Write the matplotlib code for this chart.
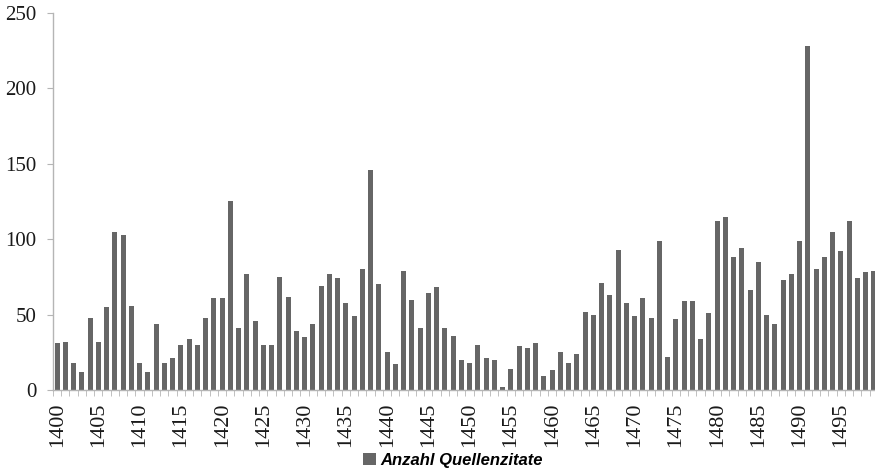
import matplotlib
matplotlib.use("Agg")
import matplotlib.pyplot as plt
import numpy as np

# ── Daten ──
years = list(range(1400, 1500))
counts = [
    31, 32, 18, 12, 48, 32, 55, 105, 103, 56,    # 1400-1409
    18, 12, 44, 18, 21, 30, 34, 30, 48, 61,      # 1410-1419
    61, 125, 41, 77, 46, 30, 30, 75, 62, 39,     # 1420-1429
    35, 44, 69, 77, 74, 58, 49, 80, 146, 70,     # 1430-1439
    25, 17, 79, 60, 41, 64, 68, 41, 36, 20,      # 1440-1449
    18, 30, 21, 20, 2, 14, 29, 28, 31, 9,        # 1450-1459
    13, 25, 18, 24, 52, 50, 71, 63, 93, 58,      # 1460-1469
    49, 61, 48, 99, 22, 47, 59, 59, 34, 51,      # 1470-1479
    112, 115, 88, 94, 66, 85, 50, 44, 73, 77,    # 1480-1489
    99, 228, 80, 88, 105, 92, 112, 74, 78, 79,   # 1490-1499
]
tick_years = list(range(1400, 1500, 5))
series_label = "Anzahl Quellenzitate"

BAR = "#666666"
AXIS = "#b5b5b5"

fig = plt.figure(figsize=(8.75, 4.69), dpi=100, facecolor="white")
ax = fig.add_axes([53 / 875, 1 - 390 / 469, 825 / 875, 377 / 469])

ax.bar(years, counts, width=0.62, color=BAR, label=series_label)

ax.set_xlim(1399.5, 1499.5)
ax.set_ylim(0, 250)
ax.set_yticks(range(0, 251, 50))
ax.set_xticks(tick_years)
ax.set_xticks(np.arange(1399.5, 1500, 1), minor=True)

for side in ("top", "right"):
    ax.spines[side].set_visible(False)
for side in ("left", "bottom"):
    ax.spines[side].set_color(AXIS)
    ax.spines[side].set_linewidth(1.0)

ax.tick_params(axis="y", which="major", length=4, color=AXIS, direction="out",
               labelsize=15, pad=8)
ax.tick_params(axis="x", which="major", length=0, labelsize=16, pad=9,
               labelrotation=90)
ax.tick_params(axis="x", which="minor", length=4, color=AXIS, direction="out")
for lbl in ax.get_xticklabels() + ax.get_yticklabels():
    lbl.set_fontfamily("Liberation Serif")
    lbl.set_color("#1a1a1a")

fig.legend(loc="center", bbox_to_anchor=(0.518, 0.018), frameon=False,
           handlelength=0.75, handleheight=0.75, handletextpad=0.3,
           prop={"family": "Liberation Sans", "weight": "bold",
                 "style": "italic", "size": 12})

fig.savefig("out.png", dpi=100, facecolor=fig.get_facecolor())
